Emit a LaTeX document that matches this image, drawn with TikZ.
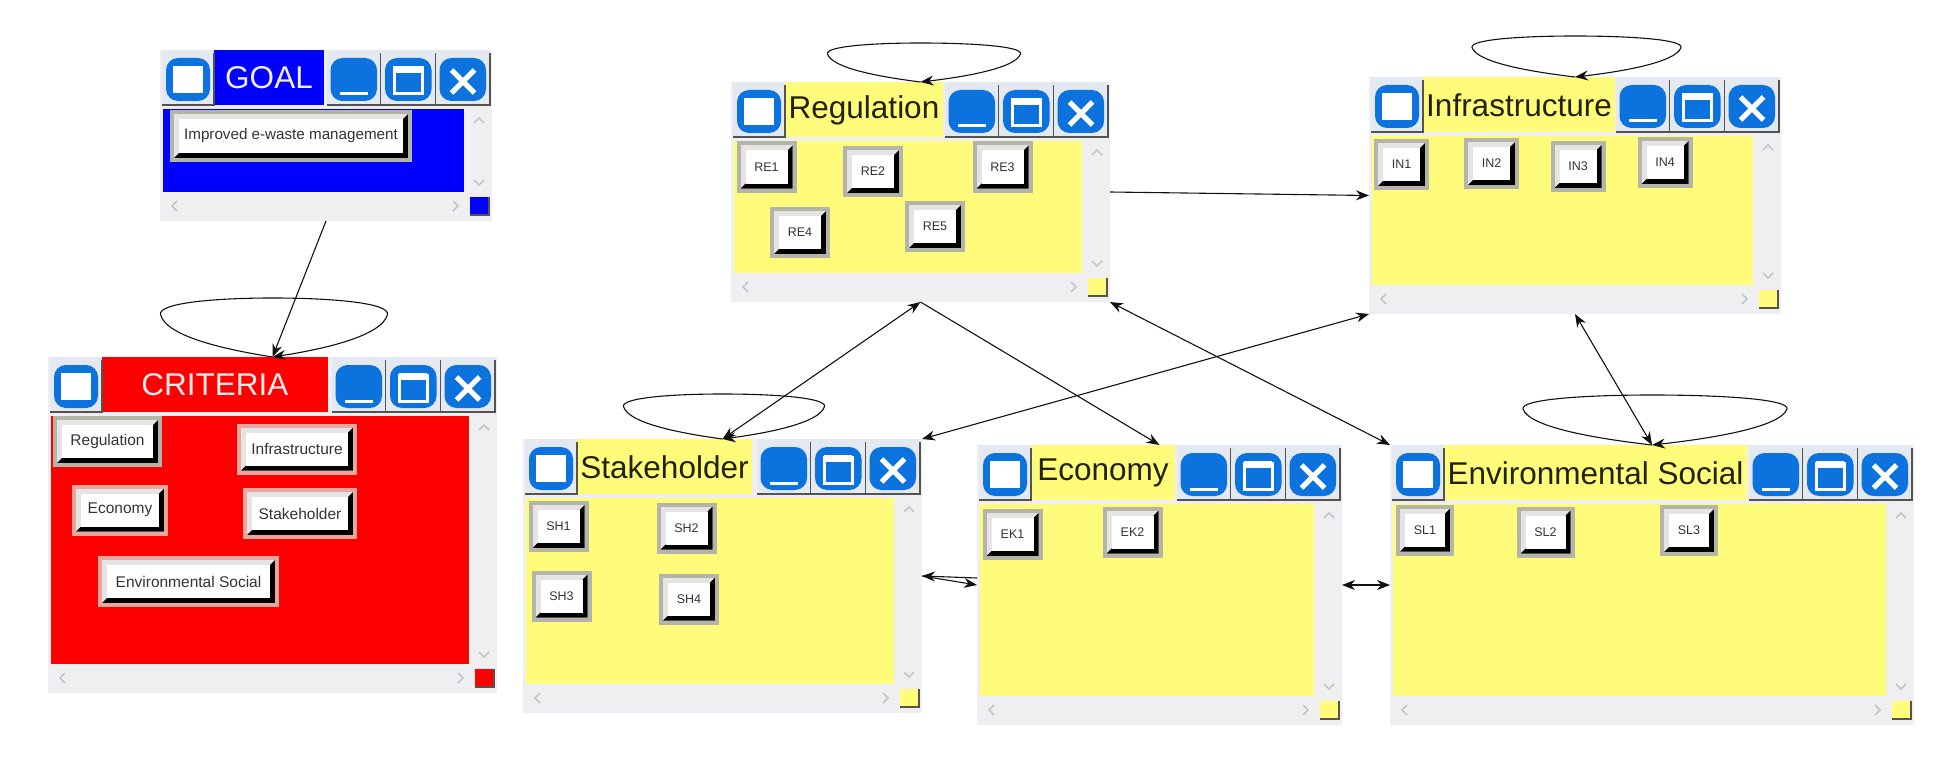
\documentclass[tikz,border=0pt]{standalone}
\usepackage{fontspec}
\setmainfont{Liberation Sans}
\usepackage{xcolor}
\definecolor{WNgray}{HTML}{EFEFF2}
\definecolor{WNbar}{HTML}{E4E8F0}
\definecolor{WNedge}{HTML}{55534E}
\definecolor{WNblue}{HTML}{0B72DE}
\definecolor{WNchev}{HTML}{C4C4CC}
\definecolor{WNyellow}{HTML}{FFFC7C}
\definecolor{WNink}{HTML}{222205}
\definecolor{WNline}{HTML}{111111}
\definecolor{WNfrost}{HTML}{F2ECEC}
\definecolor{BTNedge}{HTML}{B4B4A8}
\definecolor{BTNpink}{HTML}{EBA6A0}
\definecolor{BTNlight}{HTML}{E4E4E4}
\definecolor{BTNtext}{HTML}{333333}
\usetikzlibrary{arrows.meta}

\newcommand{\barbtn}[4]{\begin{scope}[shift={(#1,#2)}]
  \fill[WNbar] (0,0) rectangle (#3,55);
  \fill[WNblue, rounded corners=12pt] (4,8) rectangle ({#3-4},51);
  #4
  \draw[WNedge, line width=1.5pt] (0,55) -- (#3,55) -- (#3,3);
\end{scope}}

\newcommand{\winpanel}[9]{%
  \node[win, minimum width={(#4-#2)*1pt}, minimum height={(#5-#3)*1pt}] (#1) at ({(#2+#4)/2},{(#3+#5)/2}) {};
  \fill[#8] ({#2+3},{#3+59}) rectangle ({#4-28},{#5-29});
  \fill[#8] ({#2+54},#3) rectangle (#6,{#3+55});
  \node[wintitle, text=#9] (#1title) at ({(#2+54+#6)/2},{#3+28}) {#7};
  \barbtn{#2+2}{#3}{52}{\fill[white] (11,16) rectangle (41,43);}
  \pgfmathsetmacro{\bxa}{#4-165.5}
  \pgfmathsetmacro{\bxb}{#4-111}
  \pgfmathsetmacro{\bxc}{#4-56.5}
  \barbtn{\bxa}{#3}{54.5}{\draw[white, line width=3pt] (13,44) -- (41,44);}
  \barbtn{\bxb}{#3}{54.5}{\draw[white, line width=3pt] (13,18) rectangle (41,44); \fill[white] (13,16) rectangle (41,23);}
  \barbtn{\bxc}{#3}{54.5}{\draw[white, line width=5pt] (16,20) -- (39,43) (39,20) -- (16,43);}
  \draw[chev] ({#4-18},{#3+73}) -- ({#4-13},{#3+68}) -- ({#4-8},{#3+73});
  \draw[chev] ({#4-18},{#5-41}) -- ({#4-13},{#5-36}) -- ({#4-8},{#5-41});
  \draw[chev] ({#2+17},{#5-20}) -- ({#2+12},{#5-15}) -- ({#2+17},{#5-10});
  \draw[chev] ({#4-39},{#5-20}) -- ({#4-34},{#5-15}) -- ({#4-39},{#5-10});
  \fill[#8] ({#4-22},{#5-24}) rectangle ({#4-3},{#5-6});
  \draw[WNedge, line width=1.5pt] ({#4-22},{#5-6}) -- ({#4-3},{#5-6}) -- ({#4-3},{#5-24});
}

\newcommand{\selfloop}[4]{\begin{scope}[shift={(#1.north)}, y=#4pt]
  \draw[arr] (#1.north) .. controls ({-.4*#2},.12) and ({-.95*#2},.34) .. ({-#2},.72)
    .. controls ({-1.02*#2},.92) and ({-.5*#2},1) .. (0,1)
    .. controls ({.5*#3},1) and ({1.02*#3},.92) .. (#3,.72)
    .. controls ({.95*#3},.34) and ({.4*#3},.12) .. (#1.north);
\end{scope}}

\begin{document}
\begin{tikzpicture}[
  x=1pt, y=-1pt,
  win/.style={fill=WNgray, inner sep=0pt, outer sep=0pt},
  wintitle/.style={font=\fontsize{31.5}{34}\selectfont, inner sep=0pt},
  chev/.style={draw=WNchev, line width=1.5pt},
  btn/.style={draw=BTNedge, line width=4pt, fill=BTNlight, inner sep=0pt,
    minimum width=56pt, minimum height=47pt, text=BTNtext,
    font=\fontsize{12.5}{14}\selectfont,
    path picture={
      \fill[black] ([xshift=2pt,yshift=2pt]path picture bounding box.south west)
        -- ([xshift=-2pt,yshift=2pt]path picture bounding box.south east)
        -- ([xshift=-2pt,yshift=-2pt]path picture bounding box.north east)
        -- ([xshift=-7pt,yshift=-7pt]path picture bounding box.north east)
        -- ([xshift=-7pt,yshift=7pt]path picture bounding box.south east)
        -- ([xshift=7pt,yshift=7pt]path picture bounding box.south west) -- cycle;
      \fill[white] ([xshift=7pt,yshift=7pt]path picture bounding box.south west)
        rectangle ([xshift=-7pt,yshift=-7pt]path picture bounding box.north east);
    }},
  redbtn/.style={btn, draw=BTNpink, font=\fontsize{15.5}{17}\selectfont},
  arr/.style={-{Stealth[length=13pt, width=10pt]}, line width=1.1pt, color=WNline},
  dbl/.style={{Stealth[length=13pt, width=10pt]}-{Stealth[length=13pt, width=10pt]}, line width=1.1pt, color=WNline}
]
\useasboundingbox (0,0) rectangle (1949,757);

\winpanel{goal}{160}{50}{492}{221}{324}{GOAL}{blue}{WNfrost}
\winpanel{crit}{48}{357}{497}{693}{328}{CRITERIA}{red}{WNfrost}
\winpanel{reg}{731}{82}{1110}{302}{943}{Regulation}{WNyellow}{WNink}
\winpanel{infra}{1369}{77}{1781}{314}{1615}{Infrastructure}{WNyellow}{WNink}
\winpanel{stake}{523}{439}{922}{713}{752}{Stakeholder}{WNyellow}{WNink}
\winpanel{econ}{977}{445}{1342}{725}{1175}{Economy}{WNyellow}{WNink}
\winpanel{envs}{1390}{445}{1914}{725}{1747}{Environmental Social}{WNyellow}{WNink}

\node[btn, minimum width=238pt, minimum height=48pt, font=\fontsize{15.2}{17}\selectfont] (goal1) at (291,136) {Improved e-waste management};

\node[redbtn, draw=BTNedge, minimum width=105pt] (crit1) at (107.5,441.5) {Regulation};
\node[redbtn, minimum width=116pt] (crit2) at (297,449) {Infrastructure};
\node[redbtn, minimum width=92pt] (crit3) at (120,510) {Economy};
\node[redbtn, minimum width=110pt] (crit4) at (300,513.5) {Stakeholder};
\node[redbtn, minimum width=177pt] (crit5) at (188.5,581.5) {Environmental Social};

\node[btn] (re1) at (766.5,167) {RE1};
\node[btn] (re2) at (873,171.5) {RE2};
\node[btn] (re3) at (1002.5,167) {RE3};
\node[btn] (re4) at (800,232.5) {RE4};
\node[btn] (re5) at (935,226.5) {RE5};

\node[btn, minimum width=51pt] (in1) at (1401.5,164.5) {IN1};
\node[btn, minimum width=51pt] (in2) at (1491.5,163.5) {IN2};
\node[btn, minimum width=51pt] (in3) at (1578,166.5) {IN3};
\node[btn, minimum width=51pt] (in4) at (1665,162.5) {IN4};

\node[btn] (sh1) at (558.5,526.5) {SH1};
\node[btn] (sh2) at (686.5,528) {SH2};
\node[btn] (sh3) at (561.5,596) {SH3};
\node[btn] (sh4) at (689,599) {SH4};

\node[btn] (ek1) at (1012.5,534.5) {EK1};
\node[btn] (ek2) at (1132.5,532) {EK2};

\node[btn, minimum width=54pt] (sl1) at (1425,530) {SL1};
\node[btn, minimum width=54pt] (sl2) at (1545.5,532) {SL2};
\node[btn, minimum width=54pt] (sl3) at (1689,530.5) {SL3};

\selfloop{crit}{112}{115}{59}
\selfloop{reg}{93}{100}{39}
\selfloop{infra}{103}{106}{41}
\selfloop{stake}{99}{102}{45}
\selfloop{envs}{129}{135}{50}

\draw[arr] (goal.south) -- (crit.north);
\draw[arr] (reg.east) -- (infra.west);
\draw[arr] (reg.south) -- (econ.north);
\draw[dbl] (reg.south) -- (stake.north);
\draw[dbl] (reg.south east) -- (envs.north west);
\draw[dbl] (infra.south west) -- (stake.north east);
\draw[dbl] (infra.south) -- (envs.north);
\draw[arr] (stake.east) -- (econ.west);
\draw[arr] ([yshift=7pt]econ.west) -- (stake.east);
\draw[dbl] (econ.east) -- (envs.west);
\end{tikzpicture}
\end{document}
